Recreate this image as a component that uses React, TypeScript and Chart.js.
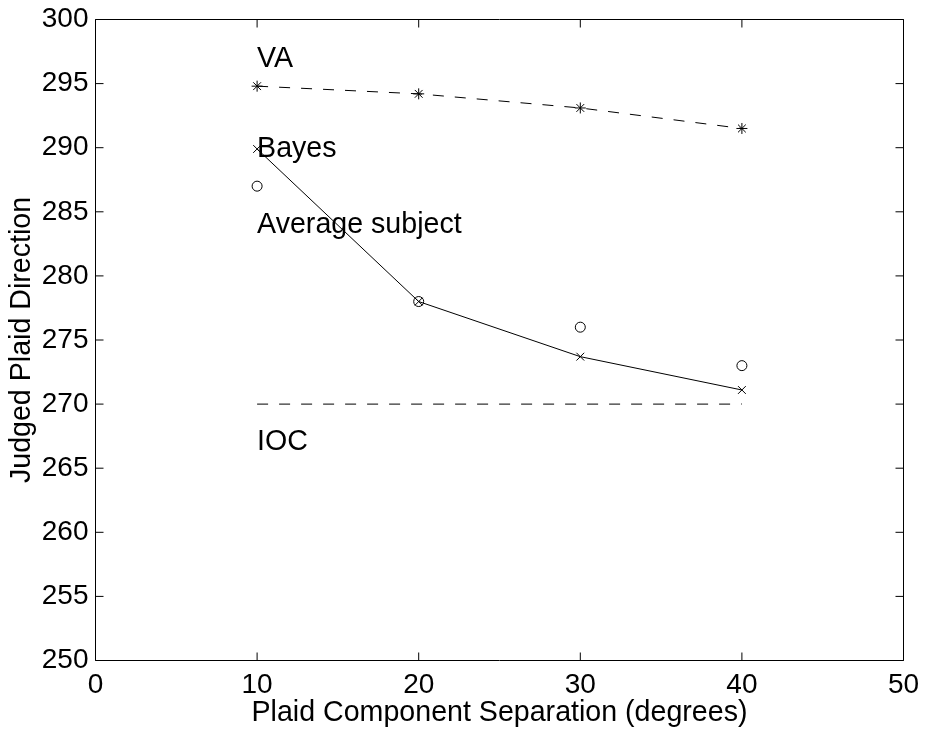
import React, { useEffect, useRef } from 'react';
import { Chart, registerables } from 'chart.js';

Chart.register(...registerables);

// ---- data ----
const separations = [10, 20, 30, 40];
const vaValues = [294.8, 294.2, 293.1, 291.5];
const bayesValues = [289.9, 278.0, 273.7, 271.1];
const subjectValues = [287.0, 278.0, 276.0, 273.0];
const iocX = [10, 40];
const iocValues = [270, 270];

const labelTexts = ['VA', 'Bayes', 'Average subject', 'IOC'];
const labelX = [10, 10, 10, 10];
const labelY = [296.9, 289.9, 284.0, 267.0];

const xTicks = [0, 10, 20, 30, 40, 50];
const yTicks = [250, 255, 260, 265, 270, 275, 280, 285, 290, 295, 300];

const xTitle = 'Plaid Component Separation (degrees)';
const yTitle = 'Judged Plaid Direction';

const FONT = "'Liberation Sans', Arial, Helvetica, sans-serif";
const TICK_SIZE = 28;
const TEXT_SIZE = 28.6;

const toPoints = (xs: number[], ys: number[]) => xs.map((x, i) => ({ x, y: ys[i] }));

const framePlugin = {
  id: 'frameAndLabels',
  afterDatasetsDraw(chart: any) {
    const { ctx, scales } = chart;
    const xs = scales.x;
    const ys = scales.y;
    ctx.save();
    ctx.fillStyle = '#000';
    ctx.font = `${TEXT_SIZE}px ${FONT}`;
    ctx.textAlign = 'left';
    ctx.textBaseline = 'middle';
    labelTexts.forEach((t, i) => {
      ctx.fillText(t, xs.getPixelForValue(labelX[i]), ys.getPixelForValue(labelY[i]));
    });
    ctx.restore();
  },
  afterDraw(chart: any) {
    const { ctx, chartArea, scales } = chart;
    const xs = scales.x;
    const ys = scales.y;
    const { left, right, top, bottom } = chartArea;
    const TL = 8;
    ctx.save();
    ctx.strokeStyle = '#000';
    ctx.lineWidth = 1;
    ctx.beginPath();
    ctx.rect(left, top, right - left, bottom - top);
    ctx.stroke();
    ctx.beginPath();
    xTicks.forEach((v) => {
      const px = xs.getPixelForValue(v);
      ctx.moveTo(px, bottom);
      ctx.lineTo(px, bottom - TL);
      ctx.moveTo(px, top);
      ctx.lineTo(px, top + TL);
    });
    yTicks.forEach((v) => {
      const py = ys.getPixelForValue(v);
      ctx.moveTo(left, py);
      ctx.lineTo(left + TL, py);
      ctx.moveTo(right, py);
      ctx.lineTo(right - TL, py);
    });
    ctx.stroke();
    ctx.restore();
  },
};

const zeroPad = (s: any) => {
  s.paddingTop = 0;
  s.paddingBottom = 0;
  s.paddingLeft = 0;
  s.paddingRight = 0;
};

export default function App() {
  const ref = useRef<HTMLCanvasElement | null>(null);
  useEffect(() => {
    if (!ref.current) return;
    const chart = new Chart(ref.current, {
      type: 'scatter',
      data: {
        datasets: [
          {
            label: 'VA',
            data: toPoints(separations, vaValues),
            showLine: true,
            borderColor: '#000',
            backgroundColor: '#000',
            borderWidth: 1,
            borderDash: [11, 11],
            pointStyle: 'star',
            pointRadius: 5.5,
            pointBorderWidth: 1,
            pointBorderColor: '#000',
          },
          {
            label: 'Bayes',
            data: toPoints(separations, bayesValues),
            showLine: true,
            borderColor: '#000',
            backgroundColor: '#000',
            borderWidth: 1,
            pointStyle: 'crossRot',
            pointRadius: 5.5,
            pointBorderWidth: 1,
            pointBorderColor: '#000',
          },
          {
            label: 'Average subject',
            data: toPoints(separations, subjectValues),
            showLine: false,
            borderColor: '#000',
            backgroundColor: 'rgba(0,0,0,0)',
            pointStyle: 'circle',
            pointRadius: 5,
            pointBorderWidth: 1,
            pointBorderColor: '#000',
          },
          {
            label: 'IOC',
            data: toPoints(iocX, iocValues),
            showLine: true,
            borderColor: '#000',
            borderWidth: 1,
            borderDash: [11, 11],
            pointRadius: 0,
          },
        ],
      },
      options: {
        responsive: false,
        animation: false,
        devicePixelRatio: 1,
        layout: { padding: { left: 0, top: 19.5, right: 21.5, bottom: 0 } },
        plugins: {
          legend: { display: false },
          tooltip: { enabled: false },
        },
        scales: {
          x: {
            type: 'linear',
            min: 0,
            max: 50,
            afterBuildTicks: (s: any) => {
              s.ticks = xTicks.map((v) => ({ value: v }));
            },
            afterFit: (s: any) => {
              s.height = 71.5;
              zeroPad(s);
            },
            grid: { display: false, drawTicks: false },
            border: { display: false },
            ticks: {
              color: '#000',
              font: { family: FONT, size: TICK_SIZE },
              padding: 8,
              maxRotation: 0,
              autoSkip: false,
            },
            title: {
              display: true,
              text: xTitle,
              color: '#000',
              font: { family: FONT, size: TEXT_SIZE, lineHeight: 1.2 },
              padding: { top: 0, bottom: 2 },
            },
          },
          y: {
            type: 'linear',
            min: 250,
            max: 300,
            afterBuildTicks: (s: any) => {
              s.ticks = yTicks.map((v) => ({ value: v }));
            },
            afterFit: (s: any) => {
              s.width = 95.5;
              zeroPad(s);
            },
            grid: { display: false, drawTicks: false },
            border: { display: false },
            ticks: {
              color: '#000',
              font: { family: FONT, size: TICK_SIZE },
              padding: 7,
              autoSkip: false,
            },
            title: {
              display: true,
              text: yTitle,
              color: '#000',
              font: { family: FONT, size: TEXT_SIZE, lineHeight: 1.2 },
              padding: { top: 5, bottom: 0 },
            },
          },
        },
      },
      plugins: [framePlugin],
    } as any);
    return () => chart.destroy();
  }, []);
  return (
    <div style={{ position: 'absolute', left: 0, top: 0, width: 925, height: 732, background: '#fff' }}>
      <canvas ref={ref} width={925} height={732} style={{ width: 925, height: 732 }} />
    </div>
  );
}
